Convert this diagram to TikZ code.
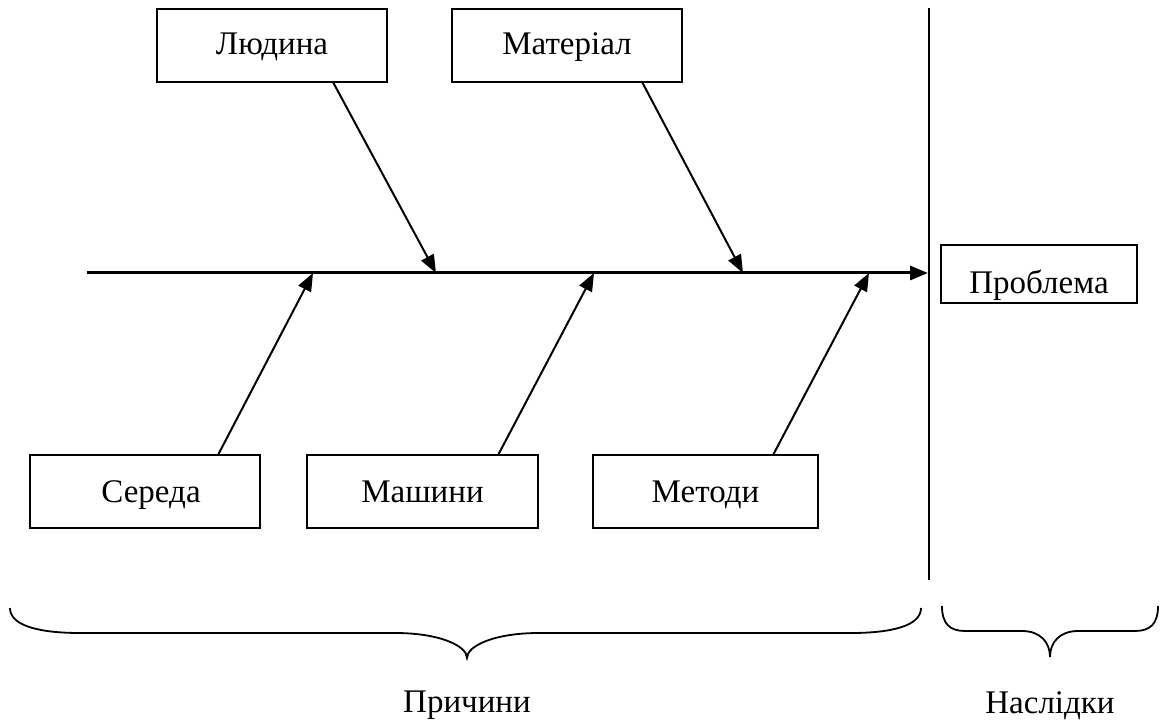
\documentclass[tikz,border=0pt]{standalone}
\usepackage{fontspec}
\setmainfont{Liberation Serif}
\usetikzlibrary{arrows.meta,calc}
\begin{document}
\begin{tikzpicture}[x=1pt,y=-1pt,
  txt/.style={font=\fontsize{33}{38}\selectfont},
  box/.style={draw,line width=1.5pt,inner sep=0pt,txt},
  topbox/.style={box,minimum width=230pt,text height=46pt,text depth=27pt},
  lowbox/.style={box,text height=47pt,text depth=26pt},
  resbox/.style={box,minimum width=196pt,text height=48pt,text depth=10pt},
  bone/.style={line width=2pt,-{Triangle[length=18pt,width=14pt]}},
  spine/.style={line width=3pt,-{Triangle[length=18pt,width=14pt]}},
  brace/.style={line width=1.8pt}]
\useasboundingbox (0,0) rectangle (1165,722);

% cause boxes above the spine
\node[topbox] (lud) at (272,45.5) {Людина};
\node[topbox] (mat) at (567,45.5) {Матеріал};
% cause boxes below the spine
\node[lowbox,minimum width=230pt] (ser) at (145,491.5) {\hspace*{12pt}Середа};
\node[lowbox,minimum width=231pt] (mash) at (422.5,491.5) {Машини};
\node[lowbox,minimum width=225pt] (met) at (705.5,491.5) {Методи};
% effect box
\node[resbox] (prob) at (1039,274) {Проблема};

% spine
\coordinate (tail) at (87,273);
\coordinate (head) at (928,273);
\coordinate (j1) at (436,273);
\coordinate (j2) at (743,273);
\coordinate (j3) at (313,273);
\coordinate (j4) at (594,273);
\coordinate (j5) at (869,273);
\draw[spine] (tail) -- (head);

% divider between causes and effect
\coordinate (dtop) at (929,8);
\coordinate (dbot) at (929,580);
\draw[line width=1.8pt] (dtop) -- (dbot);

% branches
\draw[bone] ($(lud.south west)!0.765!(lud.south east)$) -- (j1);
\draw[bone] ($(mat.south west)!0.826!(mat.south east)$) -- (j2);
\draw[bone] ($(ser.north west)!0.817!(ser.north east)$) -- (j3);
\draw[bone] ($(mash.north west)!0.827!(mash.north east)$) -- (j4);
\draw[bone] ($(met.north west)!0.8!(met.north east)$) -- (j5);

% braces
\draw[brace] (10,608) .. controls (10,626) and (40,633) .. (80,633)
  -- (395,633) .. controls (440,633) and (467,646) .. (467,658)
  .. controls (467,646) and (494,633) .. (539,633)
  -- (851,633) .. controls (891,633) and (921,626) .. (921,608);
\draw[brace] (942,606) .. controls (942,624) and (950,631) .. (965,631)
  -- (1022,631) .. controls (1040,631) and (1050,642) .. (1050,657)
  .. controls (1050,642) and (1060,631) .. (1078,631)
  -- (1135,631) .. controls (1150,631) and (1158,624) .. (1158,606);

\node[txt,anchor=base] (cause) at (467,712) {Причини};
\node[txt,anchor=base] (effect) at (1050,713) {Наслідки};
\end{tikzpicture}
\end{document}
